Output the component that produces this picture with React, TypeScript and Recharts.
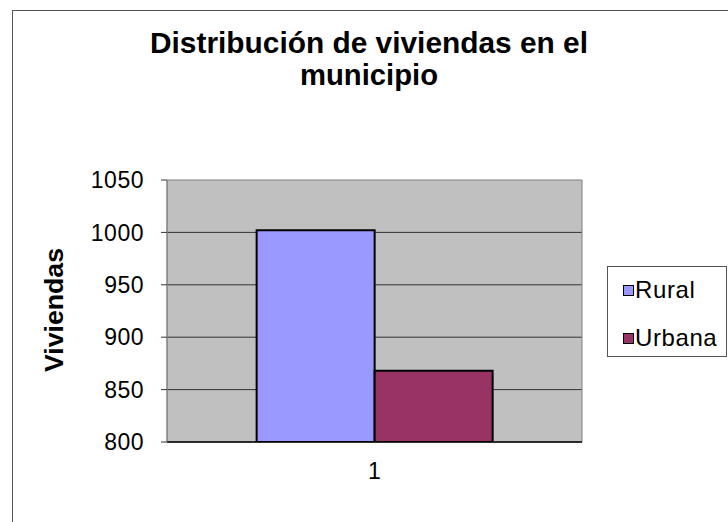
import { BarChart, Bar, XAxis, YAxis, CartesianGrid, ReferenceArea } from 'recharts';

const categories = ['1'];
const rural = [1002];
const urbana = [868];
const seriesNames = ['Rural', 'Urbana'];
const seriesColors = ['#9999FF', '#993366'];
const yTicks = [800, 850, 900, 950, 1000, 1050];
const gridValues = [850, 900, 950, 1000];

const data = categories.map((c, i) => ({ cat: c, rural: rural[i], urbana: urbana[i] }));

const FONT = '"Liberation Sans", Arial, sans-serif';

export default function App() {
  return (
    <div style={{ position: 'absolute', left: 0, top: 0, width: 728, height: 522, overflow: 'hidden', background: '#fff', fontFamily: FONT }}>
      {/* outer chart border */}
      <div style={{ position: 'absolute', left: 12, top: 10, width: 800, height: 600, border: '1px solid #555', boxSizing: 'border-box' }} />

      <BarChart
        width={728}
        height={522}
        data={data}
        margin={{ top: 180, right: 146, bottom: 40, left: 0 }}
        barCategoryGap="21.6%"
        barGap={0}
        style={{ position: 'absolute', left: 0, top: 0 }}
      >
        <CartesianGrid vertical={false} horizontalValues={gridValues} stroke="#333" fill="#C0C0C0" fillOpacity={1} />
        <XAxis
          dataKey="cat"
          height={40}
          axisLine={{ stroke: '#000', strokeWidth: 1.5 }}
          tickLine={false}
          tickSize={0}
          tickMargin={21}
          tick={{ fill: '#000', fontSize: 23, fontFamily: FONT }}
        />
        <YAxis
          width={167}
          domain={[800, 1050]}
          ticks={yTicks}
          interval={0}
          allowDataOverflow
          axisLine={{ stroke: '#808080' }}
          tickLine={{ stroke: '#333' }}
          tickSize={6}
          tickMargin={17}
          tick={{ fill: '#000', fontSize: 23, fontFamily: FONT, letterSpacing: 0.5 }}
        />
        <ReferenceArea y1={800} y2={1050} stroke="#808080" fill="none" fillOpacity={0} />
        <Bar dataKey="rural" name={seriesNames[0]} fill={seriesColors[0]} stroke="#000" strokeWidth={2} isAnimationActive={false} />
        <Bar dataKey="urbana" name={seriesNames[1]} fill={seriesColors[1]} stroke="#000" strokeWidth={2} isAnimationActive={false} />
      </BarChart>

      {/* title and axis title */}
      <svg width={728} height={522} style={{ position: 'absolute', left: 0, top: 0, pointerEvents: 'none' }}>
        <text x={369} y={53} textAnchor="middle" fontSize={29} fontWeight="bold" fontFamily={FONT} fill="#000" textLength={438} lengthAdjust="spacingAndGlyphs">
          Distribución de viviendas en el
        </text>
        <text x={369} y={85} textAnchor="middle" fontSize={29} fontWeight="bold" fontFamily={FONT} fill="#000" textLength={138} lengthAdjust="spacingAndGlyphs">
          municipio
        </text>
        <text x={63} y={310} transform="rotate(-90 63 310)" textAnchor="middle" fontSize={25} fontWeight="bold" fontFamily={FONT} fill="#000" textLength={124} lengthAdjust="spacingAndGlyphs">
          Viviendas
        </text>
      </svg>

      {/* legend */}
      <div
        style={{
          position: 'absolute',
          left: 607,
          top: 266,
          width: 120,
          height: 91,
          border: '1px solid #555',
          boxSizing: 'border-box',
          background: '#fff',
        }}
      >
        {seriesNames.map((name, i) => (
          <div key={name} style={{ position: 'absolute', left: 15, top: 10 + i * 48, height: 26, display: 'flex', alignItems: 'center', fontSize: 24, letterSpacing: 0.6, color: '#000', whiteSpace: 'nowrap' }}>
            <span style={{ display: 'inline-block', width: 9, height: 9, background: seriesColors[i], border: '1px solid #000', marginRight: 1 }} />
            {name}
          </div>
        ))}
      </div>
    </div>
  );
}
